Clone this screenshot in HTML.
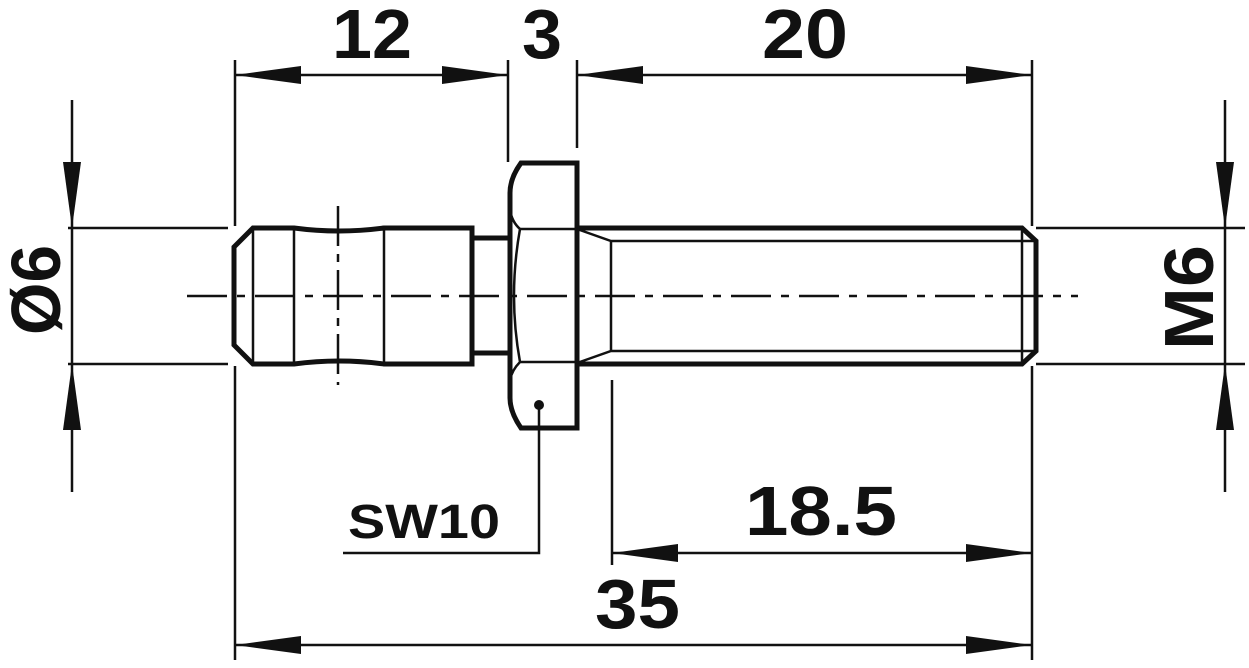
<!DOCTYPE html>
<html><head><style>body{margin:0;background:#fff}svg{display:block}text{font-family:"Liberation Sans",Arial,sans-serif;font-weight:bold;fill:#111}</style></head>
<body>
<svg width="1249" height="668" viewBox="0 0 1249 668" xmlns="http://www.w3.org/2000/svg">
<defs>
<marker id="a" viewBox="0 0 66 18" refX="66" refY="9" markerWidth="66" markerHeight="18" markerUnits="userSpaceOnUse" orient="auto-start-reverse"><path d="M0,0 L66,9 L0,18 Z" fill="#111"/></marker>
</defs>
<g stroke="#111" fill="none" stroke-width="2.5">
<line x1="235" y1="60" x2="235" y2="226"/><line x1="235" y1="366" x2="235" y2="660"/>
<line x1="508" y1="60" x2="508" y2="162"/>
<line x1="577" y1="60" x2="577" y2="148"/>
<line x1="1032" y1="60" x2="1032" y2="226"/><line x1="1032" y1="366" x2="1032" y2="660"/>
<line x1="612" y1="380" x2="612" y2="565"/>
<line x1="68" y1="228" x2="228" y2="228"/><line x1="68" y1="364" x2="228" y2="364"/>
<line x1="1036" y1="228" x2="1245" y2="228"/><line x1="1036" y1="364" x2="1245" y2="364"/>
<line x1="235" y1="75" x2="508" y2="75" marker-start="url(#a)" marker-end="url(#a)"/>
<line x1="577" y1="75" x2="1032" y2="75" marker-start="url(#a)" marker-end="url(#a)"/>
<line x1="612" y1="553" x2="1032" y2="553" marker-start="url(#a)" marker-end="url(#a)"/>
<line x1="235" y1="645" x2="1032" y2="645" marker-start="url(#a)" marker-end="url(#a)"/>
<line x1="72" y1="100" x2="72" y2="228" marker-end="url(#a)"/>
<line x1="72" y1="492" x2="72" y2="364" marker-end="url(#a)"/>
<line x1="72" y1="228" x2="72" y2="364"/>
<line x1="1225" y1="100" x2="1225" y2="228" marker-end="url(#a)"/>
<line x1="1225" y1="492" x2="1225" y2="364" marker-end="url(#a)"/>
<line x1="1225" y1="228" x2="1225" y2="364"/>
<line x1="187" y1="296" x2="1078" y2="296" stroke-dasharray="40,10,8,10"/>
<line x1="338" y1="206" x2="338" y2="385" stroke-dasharray="40,8,8,8"/>
<path d="M253,228 L294,228 Q339,234 384,228 L472,228 L472,364 L384,364 Q339,358 294,364 L253,364 L234,345 L234,247 Z" stroke-width="5"/>
<line x1="253" y1="228" x2="253" y2="364"/><line x1="294" y1="228" x2="294" y2="364"/><line x1="384" y1="228" x2="384" y2="364"/>
<path d="M472,238 L510,238 M472,353 L510,353" stroke-width="5"/>
<path d="M521,163 L577,163 L577,428 L521,428 Q510,412 510,398 L510,193 Q510,178 521,163 Z" stroke-width="5"/>
<path d="M510,210 Q512,222 520,229 L577,229 M520,229 Q508,296 520,362 L577,362 M510,380 Q512,370 520,362"/>
<circle cx="539" cy="405" r="5" fill="#111" stroke="none"/>
<polyline points="539,405 539,553 343,553"/>
<path d="M577,228 L1022,228 L1036,241 L1036,351 L1022,364 L577,364" stroke-width="5"/>
<path d="M577,229 L611,241 L1036,241 M577,363 L611,351 L1036,351 M611,241 L611,351 M1022,228 L1022,364"/>
</g>
<text x="332" y="58" font-size="70" textLength="80" lengthAdjust="spacingAndGlyphs">12</text>
<text x="522" y="58" font-size="70" textLength="40" lengthAdjust="spacingAndGlyphs">3</text>
<text x="762" y="58" font-size="70" textLength="86" lengthAdjust="spacingAndGlyphs">20</text>
<text x="745" y="535" font-size="70" textLength="152" lengthAdjust="spacingAndGlyphs">18.5</text>
<text x="595" y="628" font-size="70" textLength="85" lengthAdjust="spacingAndGlyphs">35</text>
<text x="348" y="538" font-size="48" textLength="152" lengthAdjust="spacingAndGlyphs">SW10</text>
<text transform="translate(60,335) rotate(-90)" font-size="70" textLength="90" lengthAdjust="spacingAndGlyphs">Ø6</text>
<text transform="translate(1213,350) rotate(-90)" font-size="70" textLength="105" lengthAdjust="spacingAndGlyphs">M6</text>
</svg>
</body></html>
